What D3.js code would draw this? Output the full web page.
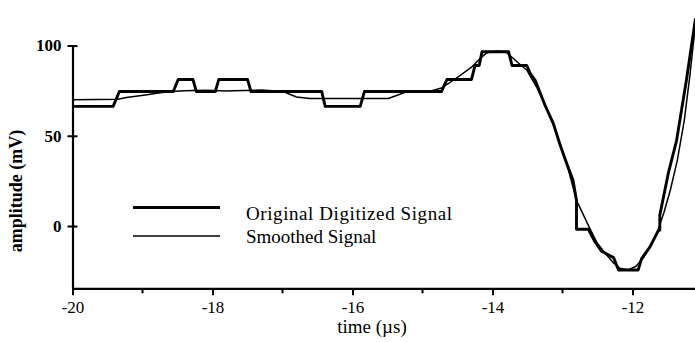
<!DOCTYPE html>
<html>
<head>
<meta charset="utf-8">
<script src="https://cdn.jsdelivr.net/npm/d3@7"></script>
<style>
  html, body { margin: 0; padding: 0; background: #fff; }
  svg { display: block; }
  text { font-family: "Liberation Serif", "Times New Roman", serif; fill: #000; }
</style>
</head>
<body>
<svg id="chart" width="695" height="342"></svg>
<script>
// Original digitized signal: polyline vertices (time in µs, amplitude in mV)
const digitizedTime = [
  -20.00, -19.42, -19.33, -18.56, -18.49, -18.28, -18.23, -17.96, -17.91, -17.50,
  -17.45, -16.44, -16.39, -15.89, -15.83, -14.73, -14.65, -14.30, -14.25, -14.19,
  -14.15, -13.77, -13.72, -13.51, -13.46, -13.39, -13.25, -13.13, -13.04, -12.94,
  -12.85, -12.80, -12.80, -12.63, -12.54, -12.44, -12.27, -12.20, -11.92, -11.87,
  -11.75, -11.63, -11.61, -11.61, -11.49, -11.37, -11.23, -11.10
];
const digitizedAmp = [
   66.3,  66.3,  74.5,  74.5,  81.2,  81.2,  74.5,  74.5,  81.2,  81.2,
   74.5,  74.5,  66.3,  66.3,  74.5,  74.5,  81.2,  81.2,  88.9,  88.9,
   96.5,  96.5,  88.9,  88.9,  84.4,  80.7,  66.9,  56.7,  45.6,  34.6,
   25.3,  14.2,  -1.8,  -1.8,  -8.5, -14.0, -17.5, -24.4, -24.4, -18.0,
  -11.6,  -2.4,  -2.4,   6.0,  29.0,  47.5,  80.7, 115.0
];

// Smoothed signal: polyline vertices (time in µs, amplitude in mV)
const smoothedTime = [
  -20.00, -19.35, -19.23, -19.15, -18.96, -18.72, -18.58, -18.40, -18.10, -17.80,
  -17.70, -17.30, -16.99, -16.80, -16.61, -15.49, -15.37, -15.23, -14.88, -14.73,
  -14.61, -14.46, -14.30, -14.18, -14.08, -13.94, -13.81, -13.65, -13.51, -13.37,
  -13.25, -13.14, -13.04, -12.94, -12.80, -12.61, -12.51, -12.39, -12.28, -12.18,
  -12.06, -11.95, -11.85, -11.75, -11.65, -11.55, -11.46, -11.36, -11.26, -11.18,
  -11.10
];
const smoothedAmp = [
   70.0,  70.2,  71.2,  71.6,  72.6,  73.9,  74.5,  75.0,  75.2,  74.8,
   75.0,  75.3,  74.5,  71.5,  70.6,  70.6,  72.3,  74.3,  74.8,  76.5,
   79.5,  83.5,  88.0,  92.7,  96.0,  97.0,  96.5,  91.0,  86.3,  77.0,
   67.4,  56.9,  45.8,  34.7,  14.2,  -1.3,  -9.1, -15.1, -20.1, -23.4,
  -24.3, -22.3, -17.9, -11.8,  -4.0,   7.6,  19.8,  36.4,  58.5,  83.5,
  112.0
];

// Axis ticks and labels
const xTicks = [-20, -18, -16, -14, -12];
const xMinorTicks = [-19, -17, -15, -13, -11];
const yTicks = [0, 50, 100];
const xTitle = "time (\u00b5s)";
const yTitle = "amplitude (mV)";
const legendLabels = ["Original Digitized Signal", "Smoothed Signal"];

const svg = d3.select("#chart");

const x = d3.scaleLinear().domain([-20, -11]).range([72.5, 702.5]);
const y = d3.scaleLinear().domain([-34.5, 100]).range([288.3, 45.5]);

const digitized = digitizedTime.map((t, i) => [t, digitizedAmp[i]]);
const smoothed = smoothedTime.map((t, i) => [t, smoothedAmp[i]]);

const line = d3.line().x(d => x(d[0])).y(d => y(d[1]));

// Signals
svg.append("path")
  .datum(smoothed)
  .attr("d", line)
  .attr("fill", "none")
  .attr("stroke", "#000")
  .attr("stroke-width", 1.5)
  .attr("stroke-linejoin", "round");

svg.append("path")
  .datum(digitized)
  .attr("d", line)
  .attr("fill", "none")
  .attr("stroke", "#000")
  .attr("stroke-width", 2.9)
  .attr("stroke-linejoin", "round");

// X axis
const xAxis = svg.append("g")
  .attr("transform", `translate(0,${y(-34.5)})`)
  .call(d3.axisBottom(x)
    .tickValues(xTicks)
    .tickSizeInner(7)
    .tickSizeOuter(0)
    .tickPadding(6)
    .tickFormat(d => String(d)));
xAxis.select(".domain").attr("stroke-width", 2.2);
xAxis.selectAll(".tick line").attr("stroke-width", 2);
xAxis.selectAll(".tick text")
  .attr("font-size", 17)
  .attr("font-family", "Liberation Serif, serif");

xAxis.selectAll(".minor")
  .data(xMinorTicks)
  .join("line")
  .attr("class", "minor")
  .attr("x1", d => x(d)).attr("x2", d => x(d))
  .attr("y1", 0).attr("y2", 5)
  .attr("stroke", "#000")
  .attr("stroke-width", 2);

// Y axis (ticks cross the axis line)
const yAxis = svg.append("g")
  .attr("transform", `translate(${x(-20)},0)`)
  .call(d3.axisLeft(y)
    .tickValues(yTicks)
    .tickSizeInner(5)
    .tickSizeOuter(0)
    .tickPadding(6)
    .tickFormat(d => String(d)));
yAxis.select(".domain").attr("stroke-width", 2.2);
yAxis.selectAll(".tick line").attr("x2", 5).attr("x1", -5).attr("stroke-width", 2);
yAxis.selectAll(".tick text")
  .attr("font-size", 17)
  .attr("font-weight", "bold")
  .attr("font-family", "Liberation Serif, serif");

// Axis titles
svg.append("text")
  .attr("x", 372)
  .attr("y", 333)
  .attr("text-anchor", "middle")
  .attr("font-size", 19)
  .text(xTitle);

svg.append("text")
  .attr("transform", "translate(22,191) rotate(-90)")
  .attr("text-anchor", "middle")
  .attr("font-size", 18)
  .attr("font-weight", "bold")
  .text(yTitle);

// Legend
const legend = svg.append("g");
const legendY = [207.5, 236];
const legendWidths = [2.9, 1.5];
legend.selectAll("line")
  .data(legendLabels)
  .join("line")
  .attr("x1", 133).attr("x2", 220)
  .attr("y1", (d, i) => legendY[i]).attr("y2", (d, i) => legendY[i])
  .attr("stroke", "#000")
  .attr("stroke-width", (d, i) => legendWidths[i]);
legend.selectAll("text")
  .data(legendLabels)
  .join("text")
  .attr("x", 246)
  .attr("y", (d, i) => [220, 243][i])
  .attr("font-size", 19)
  .each(function (d, i) {
    if (i === 0) d3.select(this).attr("textLength", 206).attr("lengthAdjust", "spacing");
  })
  .text(d => d);
</script>
</body>
</html>
